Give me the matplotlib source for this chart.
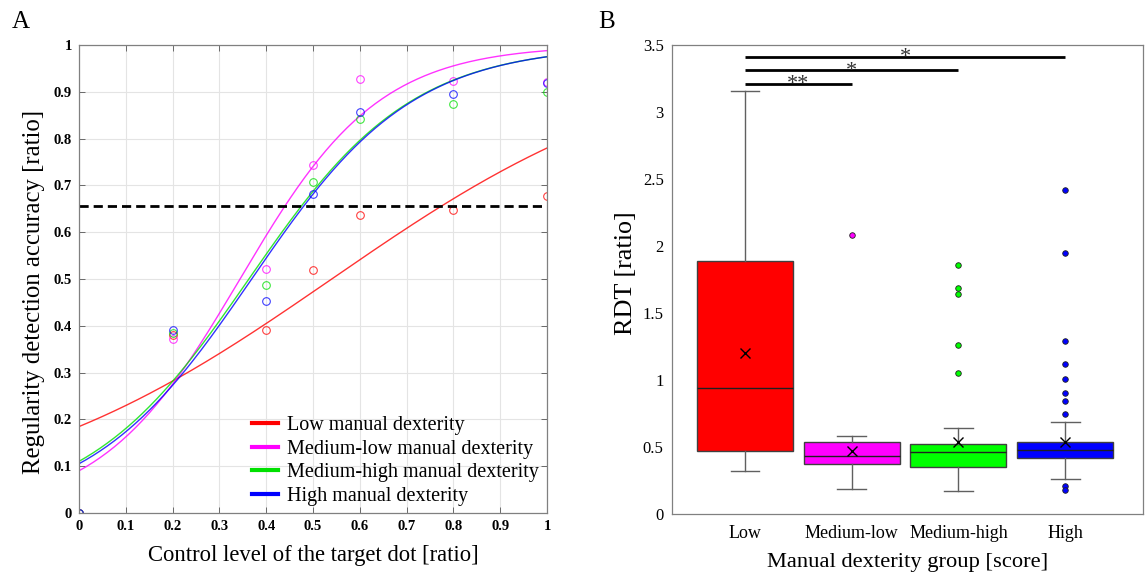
import numpy as np
import matplotlib
matplotlib.use('Agg')
import matplotlib.pyplot as plt

plt.rcParams['font.family'] = ['Liberation Serif', 'DejaVu Serif']

## -- Panel A data: accuracy vs control level, one row per group
groups_a    = ['Low manual dexterity', 'Medium-low manual dexterity',
               'Medium-high manual dexterity', 'High manual dexterity']
colors      = ['#ff0000', '#ff00ff', '#00e000', '#0000ff']

levels      = [0.0, 0.2, 0.4, 0.5, 0.6, 0.8, 1.0]
acc_low     = [0.0, 0.38, 0.392, 0.520, 0.637, 0.648, 0.677]
acc_medlow  = [0.0, 0.372, 0.522, 0.743, 0.927, 0.923, 0.920]
acc_medhigh = [0.0, 0.385, 0.488, 0.707, 0.842, 0.873, 0.900]
acc_high    = [0.0, 0.390, 0.454, 0.682, 0.856, 0.896, 0.919]
accs        = [acc_low, acc_medlow, acc_medhigh, acc_high]

# logistic fits (midpoint, slope)
fit_mid     = [0.540, 0.344, 0.363, 0.369]
fit_slope   = [2.75, 6.72, 5.75, 5.80]

threshold   = 0.655

## -- Panel B data: RDT box plot summary
groups_b    = ['Low', 'Medium-low', 'Medium-high', 'High']
box_colors  = ['#ff0000', '#ff00ff', '#00ff00', '#0000ff']
whislo      = [0.32, 0.19, 0.17, 0.26]
q1          = [0.47, 0.37, 0.35, 0.42]
med         = [0.94, 0.43, 0.46, 0.48]
q3          = [1.89, 0.54, 0.52, 0.54]
whishi      = [3.16, 0.58, 0.64, 0.69]
means       = [1.20, 0.47, 0.54, 0.54]
fliers      = [[],
               [2.08],
               [1.86, 1.69, 1.64, 1.26, 1.05],
               [2.42, 1.95, 1.29, 1.12, 1.01, 0.90, 0.84, 0.75, 0.21, 0.18]]

sig_pairs   = [(1, 2), (1, 3), (1, 4)]
sig_labels  = ['**', '*', '*']
sig_heights = [3.21, 3.31, 3.41]

fig = plt.figure(figsize=(11.46, 5.74), dpi=100)

##
ax = fig.add_axes([79/1146, 1 - 513/574, 468/1146, 468/574])

xx = np.linspace(0, 1, 200)
for acc, col, m, k, lab in zip(accs, colors, fit_mid, fit_slope, groups_a):
    ax.plot(xx, 1. / (1. + np.exp(-k * (xx - m))), color=col, lw=1.0, alpha=0.8)
    ax.plot(levels, acc, 'o', mfc='none', mec=col, ms=5.5, mew=0.8, alpha=0.75)
    ax.plot([], [], color=col, lw=3, label=lab)

ax.axhline(threshold, color='k', lw=2, ls=(0, (3.3, 1.8)))

ax.set_xlim(0, 1)
ax.set_ylim(0, 1)
ax.set_xticks(np.arange(0, 1.01, 0.1))
ax.set_yticks(np.arange(0, 1.01, 0.1))
ticklabs = ['0'] + ['%.1f' % v for v in np.arange(0.1, 0.95, 0.1)] + ['1']
ax.set_xticklabels(ticklabs, fontweight='bold', fontsize=10.5)
ax.set_yticklabels(ticklabs, fontweight='bold', fontsize=10.5)
ax.tick_params(direction='in', length=4, width=0.6, color='#555555', top=True, right=True, pad=5)
ax.grid(True, color='#e4e4e4', lw=0.8)
for s in ax.spines.values():
    s.set_color('#808080')
    s.set_linewidth(0.9)

ax.set_xlabel('Control level of the target dot [ratio]', fontsize=16.3, labelpad=9)
ax.set_ylabel('Regularity detection accuracy [ratio]', fontsize=17.8)
ax.yaxis.set_label_coords(-0.072, 0.472)

ax.legend(loc='lower right', frameon=False, fontsize=14.5, handlelength=1.3,
          handletextpad=0.45, labelspacing=0.22, borderaxespad=0.0,
          bbox_to_anchor=(1.0, -0.002))

fig.text(12/1146, 1 - 28/574, 'A', fontsize=18)

##
bx = fig.add_axes([672/1146, 1 - 514/574, 471/1146, 469/574])

stats = []
for i in range(len(groups_b)):
    stats.append(dict(label=groups_b[i], whislo=whislo[i], q1=q1[i], med=med[i],
                      q3=q3[i], whishi=whishi[i], mean=means[i], fliers=fliers[i]))

pos = np.arange(1, len(groups_b) + 1)
bp  = bx.bxp(stats, positions=pos, widths=0.9, patch_artist=True, showmeans=True,
             boxprops=dict(edgecolor='#404040', lw=1.0),
             whiskerprops=dict(color='#606060', lw=1.0),
             capprops=dict(color='#606060', lw=1.0),
             medianprops=dict(color='#202020', lw=1.0),
             meanprops=dict(marker='x', markeredgecolor='k', markersize=6.5, mew=1.0),
             flierprops=dict(marker='o', markeredgecolor='#202020', markersize=4, mew=0.6),
             capwidths=0.27)

for patch, col in zip(bp['boxes'], box_colors):
    patch.set_facecolor(col)
for fl, col in zip(bp['fliers'], box_colors):
    fl.set_markerfacecolor(col)

for (a, b), lab, h in zip(sig_pairs, sig_labels, sig_heights):
    bx.plot([a, b], [h, h], color='k', lw=2.0, solid_capstyle='butt')
    bx.text(0.5 * (a + b), h - 0.075, lab, ha='center', va='bottom', fontsize=16, color='#333333')

bx.set_xlim(0.316, 4.73)
bx.set_ylim(0, 3.5)
bx.set_yticks(np.arange(0, 3.51, 0.5))
bx.set_yticklabels(['0', '0.5', '1', '1.5', '2', '2.5', '3', '3.5'])
bx.set_xticks(pos)
bx.set_xticklabels(groups_b)
bx.tick_params(axis='y', length=0, labelsize=12, pad=6)
bx.tick_params(axis='x', length=0, labelsize=13, pad=8)
for s in bx.spines.values():
    s.set_color('#808080')
    s.set_linewidth(0.9)

bx.set_xlabel('Manual dexterity group [score]', fontsize=16.2, labelpad=8)
bx.set_ylabel('RDT [ratio]', fontsize=18.8)
bx.yaxis.set_label_coords(-0.074, 0.513)

fig.text(598/1146, 1 - 28/574, 'B', fontsize=18)

fig.savefig('out.png', dpi=100)
